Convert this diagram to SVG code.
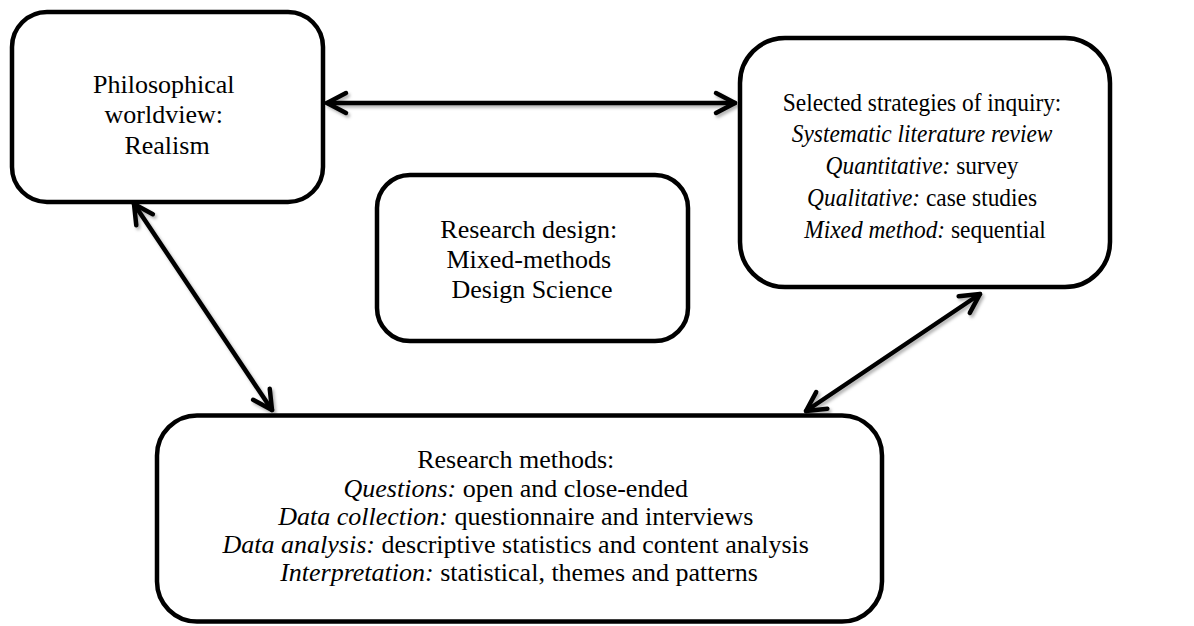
<svg xmlns="http://www.w3.org/2000/svg" width="1194" height="626" viewBox="0 0 1194 626">
  <style>
    .box { fill: #ffffff; stroke: #000000; stroke-width: 4.5; }
    .lbl { font-family: "Liberation Serif", "Times New Roman", serif; font-size: 26px; fill: #000000; text-anchor: middle; }
    .it { font-style: italic; }
    .link { fill: none; stroke: #000000; stroke-width: 4.5; stroke-linecap: round; marker-start: url(#chev); marker-end: url(#chev); }
  </style>
  <defs>
    <!-- open chevron head used at both ends of every connector -->
    <marker id="chev" markerUnits="userSpaceOnUse" markerWidth="30" markerHeight="30" viewBox="-25 -15 30 30" refX="0" refY="0" orient="auto-start-reverse" overflow="visible">
      <path d="M -19 -10 L 0 0 L -19 10" fill="none" stroke="#000000" stroke-width="4.5" stroke-linecap="round" stroke-linejoin="round"/>
    </marker>
    <filter id="soft" x="-10%" y="-10%" width="120%" height="130%">
      <feDropShadow dx="2" dy="2.5" stdDeviation="1.5" flood-color="#000000" flood-opacity="0.3"/>
    </filter>
  </defs>

  <rect width="1194" height="626" fill="#ffffff"/>

  <!-- connectors -->
  <g id="connectors" filter="url(#soft)">
    <line class="link" x1="327" y1="103" x2="735" y2="103"/>
    <line class="link" x1="134" y1="204" x2="272" y2="410"/>
    <line class="link" x1="980" y1="294" x2="806" y2="411"/>
  </g>

  <g id="worldview">
    <rect class="box" x="12" y="12" width="311" height="190" rx="35" ry="35"/>
    <text class="lbl">
      <tspan x="167" y="93">Philosophical</tspan>
      <tspan x="167" y="123">worldview:</tspan>
      <tspan x="167" y="154">Realism</tspan>
    </text>
  </g>

  <g id="strategies">
    <rect class="box" x="740" y="38" width="370" height="249" rx="45" ry="45"/>
    <!-- slightly condensed lines, scaled about the box centre -->
    <text class="lbl" transform="translate(925 0) scale(0.9 1) translate(-925 0)">
      <tspan x="925" y="111">Selected strategies of inquiry:</tspan>
      <tspan x="925" y="142" class="it">Systematic literature review</tspan>
      <tspan x="925" y="174"><tspan class="it">Quantitative:</tspan> survey</tspan>
      <tspan x="925" y="206"><tspan class="it">Qualitative:</tspan> case studies</tspan>
      <tspan x="925" y="238"><tspan class="it">Mixed method:</tspan> sequential</tspan>
    </text>
  </g>

  <g id="design">
    <rect class="box" x="377" y="175" width="311" height="166" rx="33" ry="33"/>
    <text class="lbl">
      <tspan x="532" y="238">Research design:</tspan>
      <tspan x="532" y="268">Mixed-methods</tspan>
      <tspan x="532" y="298">Design Science</tspan>
    </text>
  </g>

  <g id="methods">
    <rect class="box" x="157" y="415.5" width="725" height="206" rx="40" ry="40"/>
    <text class="lbl">
      <tspan x="519" y="468">Research methods:</tspan>
      <tspan x="519" y="496.5"><tspan class="it">Questions:</tspan> open and close-ended</tspan>
      <tspan x="519" y="525"><tspan class="it">Data collection:</tspan> questionnaire and interviews</tspan>
      <tspan x="519" y="553"><tspan class="it">Data analysis:</tspan> descriptive statistics and content analysis</tspan>
      <tspan x="519" y="581"><tspan class="it">Interpretation:</tspan> statistical, themes and patterns</tspan>
    </text>
  </g>
</svg>
